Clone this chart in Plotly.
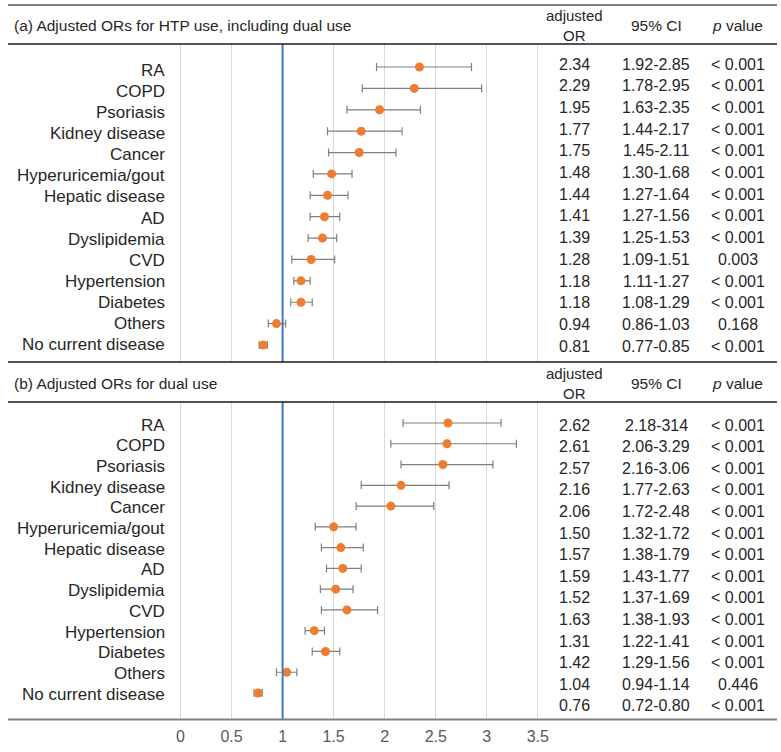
import plotly.graph_objects as go

W, H = 781, 752

diseases = ["RA", "COPD", "Psoriasis", "Kidney disease", "Cancer", "Hyperuricemia/gout",
            "Hepatic disease", "AD", "Dyslipidemia", "CVD", "Hypertension", "Diabetes",
            "Others", "No current disease"]

# (a) HTP use, including dual use
or_htp = [2.34, 2.29, 1.95, 1.77, 1.75, 1.48, 1.44, 1.41, 1.39, 1.28, 1.18, 1.18, 0.94, 0.81]
lo_htp = [1.92, 1.78, 1.63, 1.44, 1.45, 1.30, 1.27, 1.27, 1.25, 1.09, 1.11, 1.08, 0.86, 0.77]
hi_htp = [2.85, 2.95, 2.35, 2.17, 2.11, 1.68, 1.64, 1.56, 1.53, 1.51, 1.27, 1.29, 1.03, 0.85]
ci_htp = ["1.92-2.85", "1.78-2.95", "1.63-2.35", "1.44-2.17", "1.45-2.11", "1.30-1.68", "1.27-1.64",
          "1.27-1.56", "1.25-1.53", "1.09-1.51", "1.11-1.27", "1.08-1.29", "0.86-1.03", "0.77-0.85"]
p_htp = ["< 0.001", "< 0.001", "< 0.001", "< 0.001", "< 0.001", "< 0.001", "< 0.001",
         "< 0.001", "< 0.001", "0.003", "< 0.001", "< 0.001", "0.168", "< 0.001"]

# (b) dual use
or_dual = [2.62, 2.61, 2.57, 2.16, 2.06, 1.50, 1.57, 1.59, 1.52, 1.63, 1.31, 1.42, 1.04, 0.76]
lo_dual = [2.18, 2.06, 2.16, 1.77, 1.72, 1.32, 1.38, 1.43, 1.37, 1.38, 1.22, 1.29, 0.94, 0.72]
hi_dual = [3.14, 3.29, 3.06, 2.63, 2.48, 1.72, 1.79, 1.77, 1.69, 1.93, 1.41, 1.56, 1.14, 0.80]
ci_dual = ["2.18-314", "2.06-3.29", "2.16-3.06", "1.77-2.63", "1.72-2.48", "1.32-1.72", "1.38-1.79",
           "1.43-1.77", "1.37-1.69", "1.38-1.93", "1.22-1.41", "1.29-1.56", "0.94-1.14", "0.72-0.80"]
p_dual = ["< 0.001", "< 0.001", "< 0.001", "< 0.001", "< 0.001", "< 0.001", "< 0.001",
          "< 0.001", "< 0.001", "< 0.001", "< 0.001", "< 0.001", "0.446", "< 0.001"]

x_ticks = [0, 0.5, 1, 1.5, 2, 2.5, 3, 3.5]
titles = ["(a) Adjusted ORs for HTP use, including dual use", "(b) Adjusted ORs for dual use"]

FONT = "Liberation Sans, Arial"
ORANGE = "#ED7D31"
BLUE = "#4472C4"
GRID = "#D9D9D9"
TXT = "#262626"


def py(px):
    # pixel row from top -> paper y
    return 1 - px / H


def px_x(px):
    return px / W


# x scale: 0 at 180.5 px, 102.1 px per unit, axis spans the whole width
x0_px, per_unit = 180.5, 102.1
x_range = [-x0_px / per_unit, (W - x0_px) / per_unit]

panels = [
    dict(title=titles[0], ors=or_htp, lo=lo_htp, hi=hi_htp, ci=ci_htp, p=p_htp,
         head_top=5, head_bot=44, dom_bot=362, yr=[13.795, -1.076],
         lab0=70, lab_step=21.15, tab0=64, tab_step=21.7),
    dict(title=titles[1], ors=or_dual, lo=lo_dual, hi=hi_dual, ci=ci_dual, p=p_dual,
         head_top=362, head_bot=402, dom_bot=719, yr=[14.252, -1.011],
         lab0=425, lab_step=20.7, tab0=425, tab_step=21.6),
]

fig = go.Figure()
annotations = []
shapes = []
layout_axes = {}

for k, pn in enumerate(panels):
    sfx = "" if k == 0 else str(k + 1)
    rows = list(range(len(diseases)))
    fig.add_trace(go.Scatter(
        x=pn["ors"], y=rows, mode="markers",
        xaxis="x" + sfx, yaxis="y" + sfx,
        marker=dict(color=ORANGE, size=9),
        error_x=dict(type="data", symmetric=False,
                     array=[h - o for h, o in zip(pn["hi"], pn["ors"])],
                     arrayminus=[o - l for o, l in zip(pn["ors"], pn["lo"])],
                     color="#7F7F7F", thickness=1.2, width=4),
        showlegend=False, hoverinfo="skip",
    ))

    layout_axes["xaxis" + sfx] = dict(
        domain=[0, 1], range=x_range, anchor="y" + sfx,
        tickvals=x_ticks, ticktext=[f"{v:g}" for v in x_ticks],
        showticklabels=(k == 1), showgrid=True, gridcolor=GRID, gridwidth=1,
        zeroline=False, showline=False, ticks="",
        tickfont=dict(family=FONT, size=16, color="#595959"),
        ticklabelstandoff=6,
    )
    layout_axes["yaxis" + sfx] = dict(
        domain=[py(pn["dom_bot"]), py(pn["head_bot"])], range=pn["yr"],
        anchor="x" + sfx, showgrid=False, zeroline=False, showticklabels=False,
        showline=False, ticks="",
    )

    # reference line at OR = 1
    shapes.append(dict(type="line", xref="x" + sfx, yref="y" + sfx + " domain",
                       x0=1, x1=1, y0=0, y1=1, line=dict(color=BLUE, width=2)))

    # header
    hy = (pn["head_top"] + pn["head_bot"]) / 2 + 1
    head = [(12, "left", pn["title"], 15.5), (574, "center", "adjusted<br>OR", 15),
            (656, "center", "95% CI", 15.5), (737, "center", "<i>p</i> value", 15.5)]
    for xc, anc, txt, fs in head:
        annotations.append(dict(text=txt, x=px_x(xc), y=py(hy), xref="paper", yref="paper",
                                xanchor=anc, yanchor="middle", showarrow=False, align="center",
                                font=dict(family=FONT, size=fs, color=TXT)))

    for i, name in enumerate(diseases):
        ly = pn["lab0"] + i * pn["lab_step"]
        annotations.append(dict(text=name, x=px_x(167), y=py(ly), xref="paper", yref="paper",
                                xanchor="right", yanchor="middle", showarrow=False,
                                font=dict(family=FONT, size=17, color=TXT)))
        ty = pn["tab0"] + i * pn["tab_step"]
        for xc, txt in [(574, f"{pn['ors'][i]:.2f}"), (656, pn["ci"][i]), (738, pn["p"][i])]:
            annotations.append(dict(text=txt, x=px_x(xc), y=py(ty), xref="paper", yref="paper",
                                    xanchor="center", yanchor="middle", showarrow=False,
                                    font=dict(family=FONT, size=16, color=TXT)))

# horizontal rules
for y_px, col, wd in [(5, "#7F7F7F", 2), (44, "#1A1A1A", 1.3), (362, "#1A1A1A", 1.3),
                      (402, "#1A1A1A", 1.3), (719.5, "#7F7F7F", 2)]:
    shapes.append(dict(type="line", xref="paper", yref="paper",
                       x0=px_x(8), x1=px_x(777), y0=py(y_px), y1=py(y_px),
                       line=dict(color=col, width=wd)))

fig.update_layout(
    width=W, height=H,
    margin=dict(l=0, r=0, t=0, b=0),
    paper_bgcolor="white", plot_bgcolor="white",
    annotations=annotations, shapes=shapes,
    **layout_axes,
)

# the page body has a default 8px margin; drop it so the figure fills the window
fig.write_html("out.html", config={"displayModeBar": False},
               post_script="document.body.style.margin='0';")
